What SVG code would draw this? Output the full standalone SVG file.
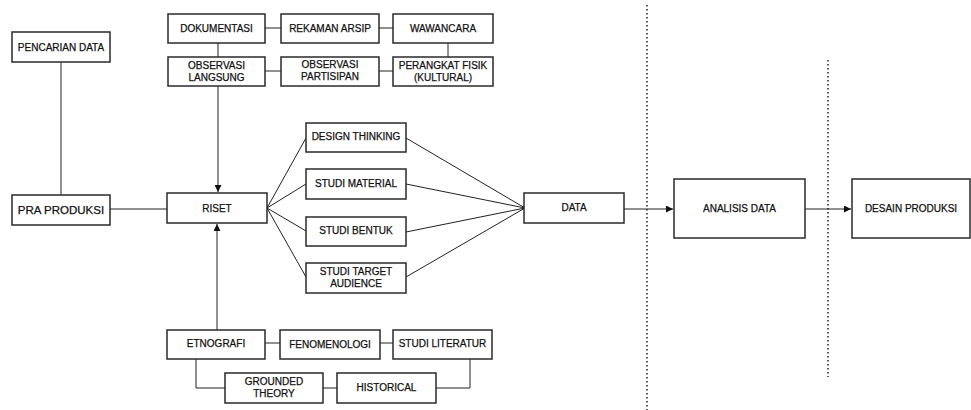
<svg xmlns="http://www.w3.org/2000/svg" width="971" height="410" viewBox="0 0 971 410">
  <style>
    .box { fill: #fff; stroke: #2a2a2a; stroke-width: 1.5; }
    .lbl { font-family: "Liberation Sans", Arial, sans-serif; font-size: 10px; fill: #111; stroke: #111; stroke-width: 0.25; text-anchor: middle; }
    .big { font-size: 11.5px; }
    .ln { fill: none; stroke: #222; stroke-width: 1; }
    .dot { fill: none; stroke: #222; stroke-width: 1.5; stroke-dasharray: 1.5 2.5; }
  </style>
  <defs>
    <marker id="arr" viewBox="0 0 10 10" refX="10" refY="5" markerWidth="7" markerHeight="7" markerUnits="userSpaceOnUse" orient="auto">
      <path d="M0,0 L10,5 L0,10 z" fill="#111"/>
    </marker>
  </defs>

  <rect width="971" height="410" fill="#fff"/>

  <!-- phase dividers -->
  <g id="dividers">
    <line class="dot" x1="647" y1="5" x2="647" y2="410"/>
    <line class="dot" x1="828" y1="60" x2="828" y2="377"/>
  </g>

  <!-- connectors -->
  <g id="connectors">
    <!-- pencarian data to pra produksi -->
    <line class="ln" x1="61" y1="62" x2="61" y2="195"/>
    <!-- pra produksi to riset -->
    <line class="ln" x1="110" y1="209" x2="167" y2="209"/>
    <!-- top method grid -->
    <line class="ln" x1="265" y1="28" x2="281" y2="28"/>
    <line class="ln" x1="379" y1="28" x2="393" y2="28"/>
    <line class="ln" x1="265" y1="71" x2="281" y2="71"/>
    <line class="ln" x1="379" y1="71" x2="393" y2="71"/>
    <line class="ln" x1="218" y1="43" x2="218" y2="57"/>
    <line class="ln" x1="448" y1="43" x2="448" y2="57"/>
    <line class="ln" x1="218" y1="86" x2="218" y2="192" marker-end="url(#arr)"/>
    <!-- bottom method grid -->
    <line class="ln" x1="217" y1="330" x2="217" y2="224" marker-end="url(#arr)"/>
    <line class="ln" x1="265" y1="343" x2="280" y2="343"/>
    <line class="ln" x1="380" y1="343" x2="393" y2="343"/>
    <polyline class="ln" points="196,359 196,388 225,388"/>
    <line class="ln" x1="323" y1="388" x2="337" y2="388"/>
    <polyline class="ln" points="436,388 470,388 470,359"/>
    <!-- riset fan-out -->
    <line class="ln" x1="267" y1="208" x2="306" y2="138"/>
    <line class="ln" x1="267" y1="208" x2="306" y2="184"/>
    <line class="ln" x1="267" y1="208" x2="306" y2="231"/>
    <line class="ln" x1="267" y1="208" x2="306" y2="277"/>
    <!-- fan-in to data -->
    <line class="ln" x1="406" y1="138" x2="525" y2="208"/>
    <line class="ln" x1="406" y1="184" x2="525" y2="208"/>
    <line class="ln" x1="406" y1="232" x2="525" y2="208"/>
    <line class="ln" x1="406" y1="277" x2="525" y2="208"/>
    <!-- main flow -->
    <line class="ln" x1="624" y1="209" x2="673" y2="209" marker-end="url(#arr)"/>
    <line class="ln" x1="805" y1="209" x2="851" y2="209" marker-end="url(#arr)"/>
  </g>

  <g id="pencarian-data">
    <rect class="box" x="12" y="32" width="98" height="30"/>
    <text class="lbl" x="61" y="51">PENCARIAN DATA</text>
  </g>
  <g id="pra-produksi">
    <rect class="box" x="12" y="195" width="98" height="30"/>
    <text class="lbl big" x="61" y="214">PRA PRODUKSI</text>
  </g>
  <g id="riset">
    <rect class="box" x="167" y="193" width="100" height="30"/>
    <text class="lbl" x="217" y="212">RISET</text>
  </g>

  <g id="dokumentasi">
    <rect class="box" x="168" y="14" width="97" height="29"/>
    <text class="lbl" x="216.5" y="32">DOKUMENTASI</text>
  </g>
  <g id="rekaman-arsip">
    <rect class="box" x="281" y="14" width="98" height="29"/>
    <text class="lbl" x="330" y="32">REKAMAN ARSIP</text>
  </g>
  <g id="wawancara">
    <rect class="box" x="393" y="14" width="100" height="29"/>
    <text class="lbl" x="443" y="32">WAWANCARA</text>
  </g>
  <g id="observasi-langsung">
    <rect class="box" x="168" y="57" width="97" height="29"/>
    <text class="lbl" x="216.5" y="69">OBSERVASI</text>
    <text class="lbl" x="216.5" y="81">LANGSUNG</text>
  </g>
  <g id="observasi-partisipan">
    <rect class="box" x="281" y="57" width="98" height="29"/>
    <text class="lbl" x="330" y="68">OBSERVASI</text>
    <text class="lbl" x="330" y="80">PARTISIPAN</text>
  </g>
  <g id="perangkat-fisik">
    <rect class="box" x="393" y="57" width="100" height="29"/>
    <text class="lbl" x="443" y="69">PERANGKAT FISIK</text>
    <text class="lbl" x="443" y="81">(KULTURAL)</text>
  </g>

  <g id="design-thinking">
    <rect class="box" x="306" y="123" width="100" height="29"/>
    <text class="lbl" x="356" y="140">DESIGN THINKING</text>
  </g>
  <g id="studi-material">
    <rect class="box" x="306" y="169" width="100" height="30"/>
    <text class="lbl" x="356" y="187">STUDI MATERIAL</text>
  </g>
  <g id="studi-bentuk">
    <rect class="box" x="306" y="217" width="100" height="29"/>
    <text class="lbl" x="356" y="234">STUDI BENTUK</text>
  </g>
  <g id="studi-target-audience">
    <rect class="box" x="306" y="263" width="100" height="30"/>
    <text class="lbl" x="356" y="275">STUDI TARGET</text>
    <text class="lbl" x="356" y="287">AUDIENCE</text>
  </g>

  <g id="data">
    <rect class="box" x="524" y="193" width="100" height="30"/>
    <text class="lbl" x="574" y="211">DATA</text>
  </g>
  <g id="analisis-data">
    <rect class="box" x="674" y="179" width="131" height="59"/>
    <text class="lbl" x="739.5" y="212">ANALISIS DATA</text>
  </g>
  <g id="desain-produksi">
    <rect class="box" x="852" y="179" width="118" height="59"/>
    <text class="lbl" x="911" y="212">DESAIN PRODUKSI</text>
  </g>

  <g id="etnografi">
    <rect class="box" x="167" y="330" width="98" height="29"/>
    <text class="lbl" x="216" y="347">ETNOGRAFI</text>
  </g>
  <g id="fenomenologi">
    <rect class="box" x="280" y="330" width="100" height="29"/>
    <text class="lbl" x="330" y="348">FENOMENOLOGI</text>
  </g>
  <g id="studi-literatur">
    <rect class="box" x="393" y="330" width="99" height="29"/>
    <text class="lbl" x="442.5" y="347">STUDI LITERATUR</text>
  </g>
  <g id="grounded-theory">
    <rect class="box" x="225" y="373" width="98" height="30"/>
    <text class="lbl" x="274" y="385">GROUNDED</text>
    <text class="lbl" x="274" y="397">THEORY</text>
  </g>
  <g id="historical">
    <rect class="box" x="337" y="373" width="99" height="30"/>
    <text class="lbl" x="386.5" y="391">HISTORICAL</text>
  </g>
</svg>
